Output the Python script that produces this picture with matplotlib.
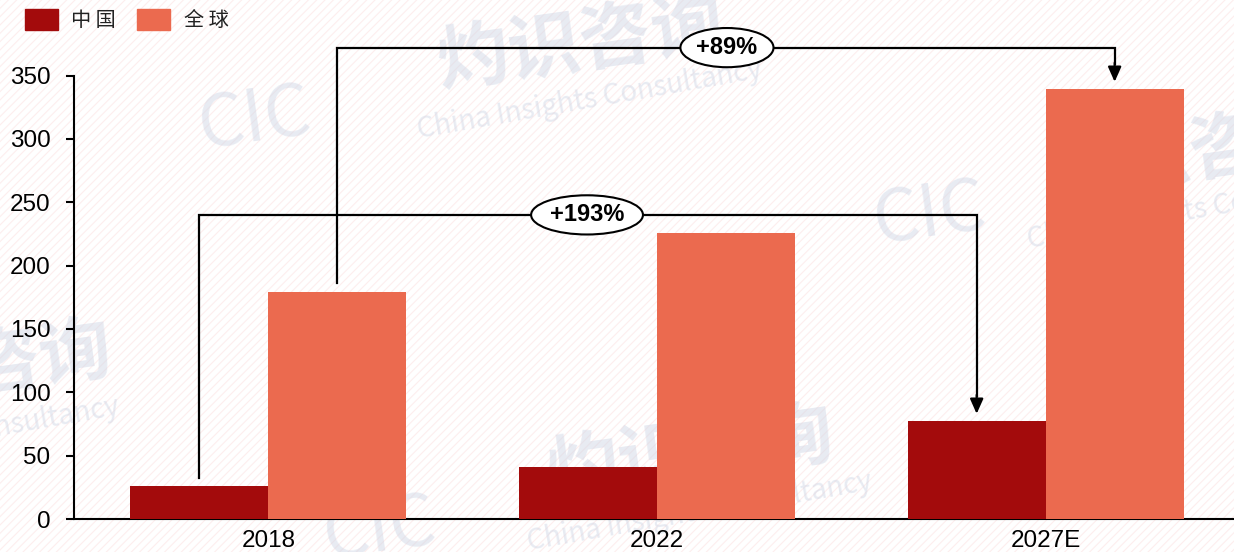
import matplotlib
matplotlib.use("Agg")
import matplotlib.pyplot as plt
import numpy as np
from matplotlib.patches import Rectangle, Patch

plt.rcParams['font.family'] = ['Liberation Sans', 'Noto Sans CJK SC', 'DejaVu Sans']
plt.rcParams['hatch.linewidth'] = 0.8

categories = ["2018", "2022", "2027E"]
series_names = ["中国", "全球"]
china = [26, 41, 77]
world = [179, 226, 339]
growth_labels = ["+193%", "+89%"]
colors = ["#a30b0c", "#eb6a4f"]

fig = plt.figure(figsize=(12.34, 5.52), dpi=100)
# faint diagonal hatched background
bg = Rectangle((0, 0), 1, 1, transform=fig.transFigure, facecolor="white",
               edgecolor="#fdeeee", hatch="////", lw=0, zorder=-10)
fig.patches.append(bg)

ax = fig.add_axes([74/1234, 1-519/552, (1240-74)/1234, (519-75.5)/552])
ax.set_facecolor("none")

x = np.arange(len(categories))
w = 0.355
ax.bar(x - w/2, china, width=w, color=colors[0], label=series_names[0], zorder=3)
ax.bar(x + w/2, world, width=w, color=colors[1], label=series_names[1], zorder=3)

ax.set_xlim(-0.5, 2.5)
ax.set_ylim(0, 350)
ax.set_yticks(np.arange(0, 351, 50))
ax.set_xticks(x)
ax.set_xticklabels(categories)
for s in ["top", "right"]:
    ax.spines[s].set_visible(False)
ax.spines["left"].set_linewidth(1.5)
ax.spines["bottom"].set_linewidth(1.5)
ax.tick_params(axis="y", length=6, width=1.5, pad=11, labelsize=17.5, direction="out")
ax.tick_params(axis="x", length=0, pad=8, labelsize=17.5)

# growth brackets
def bracket(x0, y0, x1, y1, ytop, label, labx):
    ax.plot([x0, x0, x1, x1], [y0, ytop, ytop, y1 + 14], color="black", lw=1.6,
            zorder=5, clip_on=False, solid_joinstyle="miter")
    ax.annotate("", xy=(x1, y1), xytext=(x1, y1 + 15),
                arrowprops=dict(arrowstyle="-|>,head_length=0.9,head_width=0.4",
                                color="black", lw=1.6, shrinkA=0, shrinkB=0),
                zorder=6, annotation_clip=False)
    ax.text(labx, ytop, label, ha="center", va="center", fontsize=17,
            fontweight="bold", zorder=7,
            bbox=dict(boxstyle="ellipse,pad=0.1", fc="white", ec="black", lw=1.5))

bracket(x[0] - w/2, china[0] + 6, x[2] - w/2, china[2] + 6, 240, growth_labels[0], 0.82)
bracket(x[0] + w/2, world[0] + 7, x[2] + w/2, world[2] + 6, 372, growth_labels[1], 1.18)

# legend
leg = fig.legend(handles=[Patch(color=colors[0], label=series_names[0]),
                          Patch(color=colors[1], label=series_names[1])],
                 loc="upper left", bbox_to_anchor=(25/1234, 1-9/552), ncol=2, frameon=False,
                 borderpad=0, borderaxespad=0,
                 handlelength=1.65, handleheight=1.25, handletextpad=0.65,
                 columnspacing=1.05, prop={'family': 'Noto Sans CJK SC', 'size': 14.5})
for t in leg.get_texts():
    t.set_text(" ".join(t.get_text()))
    t.set_color("#222222")

# watermarks
wm = "#ccd4e4"
def wmtext(xp, yp, s, size, rot, weight="bold", alpha=0.45, style="normal"):
    fig.text(xp/1234, 1-yp/552, s, fontsize=size, color=wm, alpha=alpha, rotation=rot,
             ha="center", va="center", fontweight=weight, style=style,
             family=['Noto Sans CJK SC', 'DejaVu Sans'], zorder=-5)

wmtext(580, 45, "灼识咨询", 52, 8)
wmtext(590, 100, "China Insights Consultancy", 20, 10, weight="normal")
wmtext(690, 455, "灼识咨询", 52, 8)
wmtext(700, 512, "China Insights Consultancy", 20, 10, weight="normal")
wmtext(1190, 155, "灼识咨询", 52, 8)
wmtext(1200, 210, "China Insights Consultancy", 20, 10, weight="normal")
wmtext(40, 360, "咨询", 52, 8)
wmtext(40, 420, "Consultancy", 20, 10, weight="normal")
wmtext(255, 120, "CIC", 52, 8, weight="normal", style="italic")
wmtext(930, 215, "CIC", 52, 8, weight="normal", style="italic")
wmtext(380, 530, "CIC", 52, 8, weight="normal", style="italic")

fig.savefig("out.png", dpi=100)
